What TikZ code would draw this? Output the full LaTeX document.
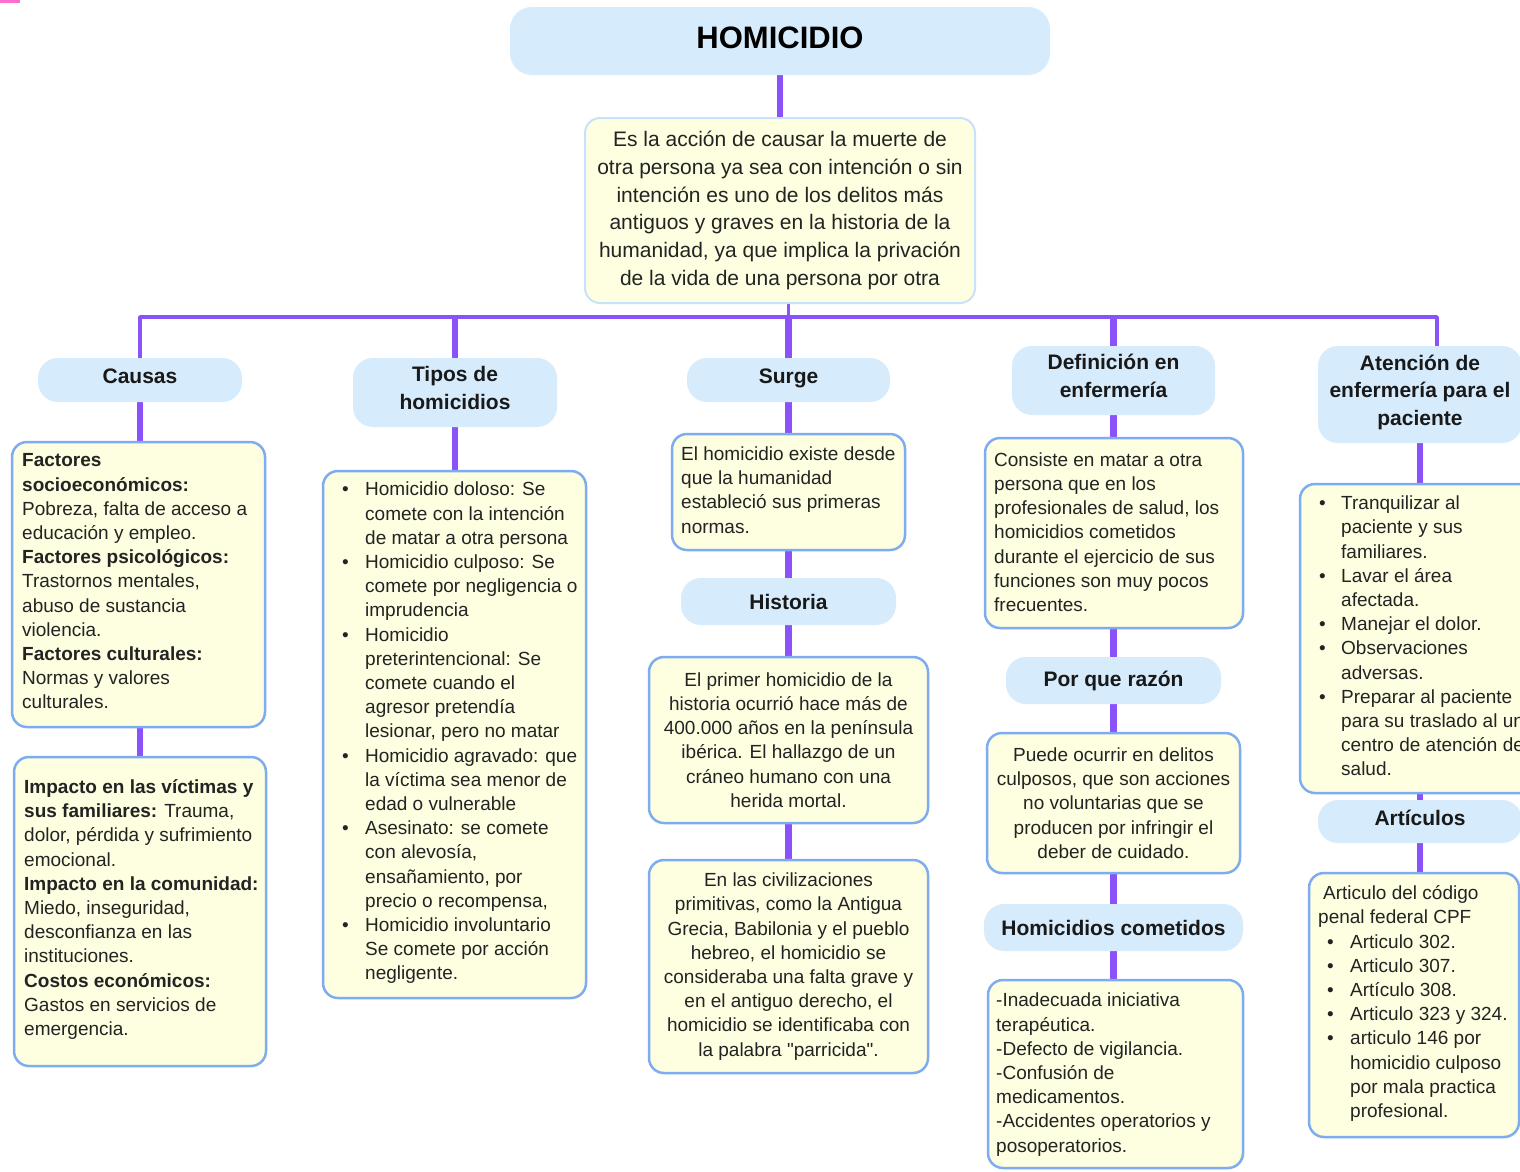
\documentclass[tikz,border=0pt]{standalone}
\usepackage{fontspec}
\setmainfont{Liberation Sans}[Ligatures=TeXOff]
\usetikzlibrary{backgrounds}
\definecolor{purp}{RGB}{140,82,250}
\definecolor{hdrblue}{RGB}{214,235,251}
\definecolor{boxyel}{RGB}{254,254,225}
\definecolor{boxblue}{RGB}{125,172,240}
\definecolor{descblue}{RGB}{200,226,250}
\definecolor{textgray}{RGB}{35,35,35}
\definecolor{pinkmark}{RGB}{250,110,210}
\newcommand{\lbul}[1][23pt]{\makebox[#1][l]{\textbullet}}
\newcommand{\lind}[1][23pt]{\hspace*{#1}}
\tikzset{
  titlebox/.style={fill=hdrblue, rounded corners=22pt, inner sep=0pt, align=center,
    font=\fontsize{31}{36}\selectfont\bfseries, text=black,
    execute at begin node={\rule{0pt}{28pt}}, execute at end node={\rule[-14pt]{0pt}{14pt}}},
  hdrbase/.style={fill=hdrblue, rounded corners=20pt, inner sep=0pt, align=center,
    font=\fontsize{21}{27.5}\selectfont\bfseries, text=black!90},
  hdr/.style={hdrbase,
    execute at begin node={\rule{0pt}{22pt}}, execute at end node={\rule[-15pt]{0pt}{15pt}}},
  hdrm/.style={hdrbase,
    execute at begin node={\rule{0pt}{22pt}}, execute at end node={\rule[-9pt]{0pt}{9pt}}},
  hdrc/.style={hdrbase},
  ybox/.style={fill=boxyel, draw=boxblue, line width=2.5pt, rounded corners=15pt, inner sep=0pt},
  descbox/.style={fill=boxyel, draw=descblue, line width=2pt, rounded corners=15pt, inner sep=0pt,
    align=center, font=\fontsize{21}{27.8}\selectfont, text=textgray},
  txt/.style={inner sep=0pt, align=left, font=\fontsize{19}{24.2}\selectfont, text=textgray, anchor=west},
  ctxt/.style={align=center, font=\fontsize{19}{24.2}\selectfont, text=textgray},
  conn/.style={draw=purp, line width=6.5pt},
  bar/.style={draw=purp, line width=3.5pt},
}
\begin{document}
\begin{tikzpicture}[x=1pt, y=-1pt]
\useasboundingbox (0,0) rectangle (1520,1171);
\clip (0,0) rectangle (1520,1171);

% title and description
\node[titlebox, minimum width=540pt, minimum height=68pt] (title) at (780,41) {HOMICIDIO};
\node[descbox, minimum width=390pt, minimum height=185pt] (desc) at (780,210.5)
  {Es la acción de causar la muerte de\\ otra persona ya sea con intención o sin\\ intención es uno de los delitos más\\ antiguos y graves en la historia de la\\ humanidad, ya que implica la privación\\ de la vida de una persona por otra};

% column 1: Causas
\node[hdr, minimum width=204pt, minimum height=44pt] (causas) at (140,380) {Causas};
\node[ybox, minimum width=253pt, minimum height=285pt] (cb1) at (138.5,584.5) {};
\node[txt] (cb1t) at (22,581.5)
  {\textbf{Factores}\\ \textbf{socioeconómicos:}\\ Pobreza, falta de acceso a\\ educación y empleo.\\ \textbf{Factores psicológicos:}\\ Trastornos mentales,\\ abuso de sustancia\\ violencia.\\ \textbf{Factores culturales:}\\ Normas y valores\\ culturales.};
\node[ybox, minimum width=252pt, minimum height=309pt] (cb2) at (140,911.5) {};
\node[txt] (cb2t) at (24,909.5)
  {\textbf{Impacto en las víctimas y}\\ \textbf{sus familiares:} Trauma,\\ dolor, pérdida y sufrimiento\\ emocional.\\ \textbf{Impacto en la comunidad:}\\ Miedo, inseguridad,\\ desconfianza en las\\ instituciones.\\ \textbf{Costos económicos:}\\ Gastos en servicios de\\ emergencia.};

% column 2: Tipos
\node[hdrm, minimum width=204pt, minimum height=69pt] (tipos) at (455,392.5) {Tipos de\\ homicidios};
\node[ybox, minimum width=263pt, minimum height=527pt] (tb) at (454.5,734.5) {};
\node[txt] (tbt) at (342,733)
  {\lbul Homicidio doloso: Se\\ \lind comete con la intención\\ \lind de matar a otra persona\\
   \lbul Homicidio culposo: Se\\ \lind comete por negligencia o\\ \lind imprudencia\\
   \lbul Homicidio\\ \lind preterintencional: Se\\ \lind comete cuando el\\ \lind agresor pretendía\\ \lind lesionar, pero no matar\\
   \lbul Homicidio agravado: que\\ \lind la víctima sea menor de\\ \lind edad o vulnerable\\
   \lbul Asesinato: se comete\\ \lind con alevosía,\\ \lind ensañamiento, por\\ \lind precio o recompensa,\\
   \lbul Homicidio involuntario\\ \lind Se comete por acción\\ \lind negligente.};

% column 3: Surge / Historia
\node[hdr, minimum width=203pt, minimum height=44pt] (surge) at (788.5,380) {Surge};
\node[ybox, minimum width=233pt, minimum height=116pt] (sb) at (788.5,492) {};
\node[txt] (sbt) at (681,490)
  {El homicidio existe desde\\ que la humanidad\\ estableció sus primeras\\ normas.};
\node[hdrc, minimum width=215pt, minimum height=47pt] (hist) at (788.5,601.5) {Historia};
\node[ybox, ctxt, minimum width=279pt, minimum height=166pt] (hb1) at (788.5,740)
  {El primer homicidio de la\\ historia ocurrió hace más de\\ 400.000 años en la península\\ ibérica. El hallazgo de un\\ cráneo humano con una\\ herida mortal.};
\node[ybox, ctxt, minimum width=279pt, minimum height=213pt] (hb2) at (788.5,966.5)
  {En las civilizaciones\\ primitivas, como la Antigua\\ Grecia, Babilonia y el pueblo\\ hebreo, el homicidio se\\ consideraba una falta grave y\\ en el antiguo derecho, el\\ homicidio se identificaba con\\ la palabra "parricida".};

% column 4: Definición en enfermería
\node[hdrm, minimum width=203pt, minimum height=69pt] (def) at (1113.5,380.5) {Definición en\\ enfermería};
\node[ybox, minimum width=258pt, minimum height=190pt] (db) at (1114,533) {};
\node[txt] (dbt) at (994,532)
  {Consiste en matar a otra\\ persona que en los\\ profesionales de salud, los\\ homicidios cometidos\\ durante el ejercicio de sus\\ funciones son muy pocos\\ frecuentes.};
\node[hdrc, minimum width=215pt, minimum height=47pt] (porque) at (1113.5,680.5) {Por que razón};
\node[ybox, ctxt, minimum width=253pt, minimum height=140pt] (pb) at (1113.5,803)
  {Puede ocurrir en delitos\\ culposos, que son acciones\\ no voluntarias que se\\ producen por infringir el\\ deber de cuidado.};
\node[hdrc, minimum width=259pt, minimum height=47pt] (homcom) at (1113.5,927.5) {Homicidios cometidos};
\node[ybox, minimum width=255pt, minimum height=188pt] (hcb) at (1115.5,1074) {};
\node[txt] (hcbt) at (996,1074.5)
  {-Inadecuada iniciativa\\ terapéutica.\\ -Defecto de vigilancia.\\ -Confusión de\\ medicamentos.\\ -Accidentes operatorios y\\ posoperatorios.};

% column 5: Atención
\node[hdrm, minimum width=204pt, minimum height=97pt] (aten) at (1420,394.5) {Atención de\\ enfermería para el\\ paciente};
\node[ybox, minimum width=265pt, minimum height=309pt] (ab) at (1432.5,638.5) {};
\node[txt] (abt) at (1319,636)
  {\lbul[22pt]Tranquilizar al\\ \lind[22pt]paciente y sus\\ \lind[22pt]familiares.\\
   \lbul[22pt]Lavar el área\\ \lind[22pt]afectada.\\
   \lbul[22pt]Manejar el dolor.\\
   \lbul[22pt]Observaciones\\ \lind[22pt]adversas.\\
   \lbul[22pt]Preparar al paciente\\ \lind[22pt]para su traslado al un\\ \lind[22pt]centro de atención de\\ \lind[22pt]salud.};
\node[hdr, minimum width=204pt, minimum height=43pt] (art) at (1420,821.5) {Artículos};
\node[ybox, minimum width=210pt, minimum height=264pt] (artb) at (1414,1005) {};
\node[txt] (artbt) at (1318,1003.5)
  {\hspace*{5pt}Articulo del código\\ penal federal CPF\\
   \hspace*{9pt}\lbul Articulo 302.\\
   \hspace*{9pt}\lbul Articulo 307.\\
   \hspace*{9pt}\lbul Artículo 308.\\
   \hspace*{9pt}\lbul Articulo 323 y 324.\\
   \hspace*{9pt}\lbul articulo 146 por\\
   \hspace*{32pt}homicidio culposo\\
   \hspace*{32pt}por mala practica\\
   \hspace*{32pt}profesional.};

% connectors (behind the boxes)
\coordinate (bl) at (140,317);
\coordinate (br) at (1437,317);
\begin{scope}[on background layer]
  \fill[white] (0,0) rectangle (1520,1171);
  \fill[pinkmark] (0,-6) rectangle (20,3);
  \draw[conn] (title.south) -- (desc.north);
  \draw[bar] (surge.north |- desc.south) -- (surge.north |- bl);
  \draw[bar, line join=round] (causas.north -| bl) -- (bl) -- (br) -- (br |- aten.north);
  \draw[conn] (tipos.north |- bl) -- (tipos.north);
  \draw[conn] (surge.north |- bl) -- (surge.north);
  \draw[conn] (def.north |- bl) -- (def.north);
  \draw[conn] (causas.south) -- (causas.south |- cb1.north);
  \draw[conn] (causas.south |- cb1.south) -- (causas.south |- cb2.north);
  \draw[conn] (tipos.south) -- (tipos.south |- tb.north);
  \draw[conn] (surge.south) -- (sb.north);
  \draw[conn] (sb.south) -- (hist.north);
  \draw[conn] (hist.south) -- (hb1.north);
  \draw[conn] (hb1.south) -- (hb2.north);
  \draw[conn] (def.south) -- (def.south |- db.north);
  \draw[conn] (def.south |- db.south) -- (porque.north);
  \draw[conn] (porque.south) -- (pb.north);
  \draw[conn] (pb.south) -- (homcom.north);
  \draw[conn] (homcom.south) -- (homcom.south |- hcb.north);
  \draw[conn] (aten.south) -- (aten.south |- ab.north);
  \draw[conn] (aten.south |- ab.south) -- (art.north);
  \draw[conn] (art.south) -- (art.south |- artb.north);
\end{scope}
\end{tikzpicture}
\end{document}
